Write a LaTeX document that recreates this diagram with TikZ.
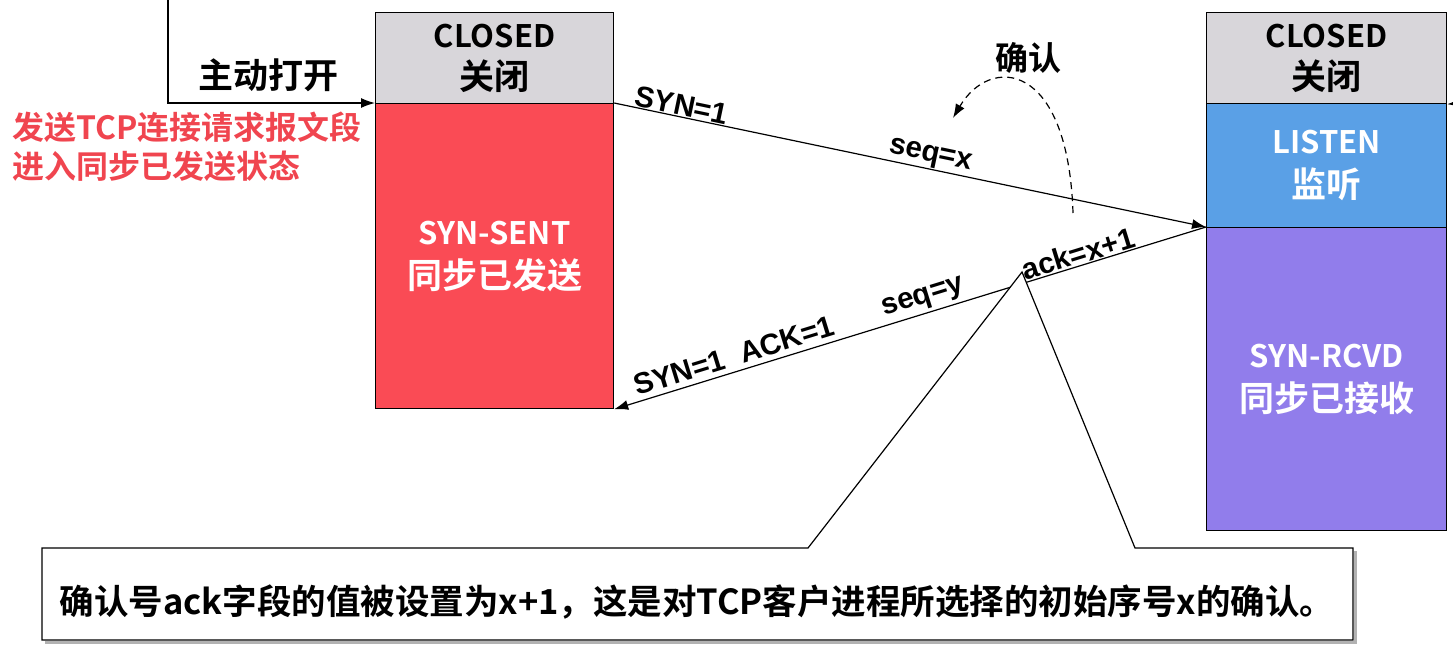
\documentclass[tikz,border=0pt]{standalone}
\usepackage{fontspec}
\setmainfont{Liberation Sans}
\newfontfamily\cjk{Noto Sans CJK SC}[BoldFont={Noto Sans CJK SC Bold}]
\usetikzlibrary{arrows.meta}
\definecolor{closedgray}{HTML}{D8D6DA}
\definecolor{sentred}{HTML}{FA4B55}
\definecolor{listenblue}{HTML}{5AA0E6}
\definecolor{rcvdpurple}{HTML}{917DEB}
\definecolor{notered}{HTML}{F0454F}
\newcommand\zhbig{\fontsize{35}{43}\selectfont}
\tikzset{
  statebox/.style={draw=black, line width=1.2pt, inner sep=0pt, anchor=north west, align=center},
  dark/.style={font=\cjk\bfseries\fontsize{31}{42}\selectfont, text=black},
  light/.style={font=\cjk\bfseries\fontsize{31}{44}\selectfont, text=white},
  lbl/.style={font=\bfseries\fontsize{29.5}{32}\selectfont, inner sep=1pt},
  conn/.style={line width=1.2pt, -{Latex[length=14pt,width=10pt]}},
}
\begin{document}
\begin{tikzpicture}[x=1pt,y=-1pt]
\useasboundingbox (0,0) rectangle (1453,646);
% left column
\node[statebox, fill=closedgray, minimum width=238pt, minimum height=91pt, dark] (lc) at (375,12) {CLOSED\\{\zhbig 关闭}};
\node[statebox, fill=sentred, minimum width=238pt, minimum height=305pt, light] (ls) at (375,103) {SYN-SENT\\{\zhbig 同步已发送}};
% right column
\node[statebox, fill=closedgray, minimum width=240pt, minimum height=91pt, dark] (rc) at (1206,12) {CLOSED\\{\zhbig 关闭}};
\node[statebox, fill=listenblue, minimum width=240pt, minimum height=124pt, light] (rl) at (1206,103) {LISTEN\\{\zhbig 监听}};
\node[statebox, fill=rcvdpurple, minimum width=240pt, minimum height=303pt, light] (rs) at (1206,227) {SYN-RCVD\\{\zhbig 同步已接收}};
% active open
\coordinate (top) at (168,0);
\draw[conn] (top) |- (ls.north west);
\node[font=\cjk\bfseries\fontsize{35}{38}\selectfont] (open) at (268,75) {主动打开};
\node[font=\cjk\bfseries\fontsize{32}{39}\selectfont, text=notered, align=left, anchor=north west, inner sep=0pt] (desc) at (12,112) {发送TCP连接请求报文段\\进入同步已发送状态};
% right incoming arrow stub
\coordinate (rin) at (1460,103);
\draw[conn] (rin) -- (rc.south east);
% SYN segment
\draw[conn] (ls.north east) -- (rs.north west)
  node[pos=0.11, sloped, above, lbl] (syn1) {SYN=1}
  node[pos=0.53, sloped, above, lbl] (seqx) {seq=x};
% SYN-ACK segment
\draw[conn] (rs.north west) -- (ls.south east)
  node[pos=0.21, sloped, above, lbl] (ackx) {ack=x+1}
  node[pos=0.47, sloped, above=2pt, lbl] (seqy) {seq=y}
  node[pos=0.79, sloped, above=4pt, lbl] (synack) {SYN=1\ \ ACK=1};
% dashed confirm arc
\coordinate (d0) at (1073,213);
\coordinate (d1) at (953,118);
\draw[line width=1.2pt, dash pattern=on 7pt off 5pt, -{Latex[length=14pt,width=10pt]}] (d0) .. controls (1068,60) and (990,55) .. (d1);
\node[font=\cjk\bfseries\fontsize{33}{36}\selectfont] (conf) at (1028,58) {确认};
% callout
\coordinate (apex) at (1022,272);
\coordinate (nw) at (42,548);
\coordinate (se) at (1353,640);
\draw[gray!60, line width=3pt] (45,642) -- (1355,642) -- (1355,551);
\draw[line width=1.2pt, fill=white] (nw) -- (808,548) -- (apex) -- (1135,548) -- (se |- nw) -- (se) -- (nw |- se) -- cycle;
\node[font=\cjk\bfseries\fontsize{34.5}{38}\selectfont] (note) at (697,602) {确认号ack字段的值被设置为x+1，这是对TCP客户进程所选择的初始序号x的确认。};
\end{tikzpicture}
\end{document}
